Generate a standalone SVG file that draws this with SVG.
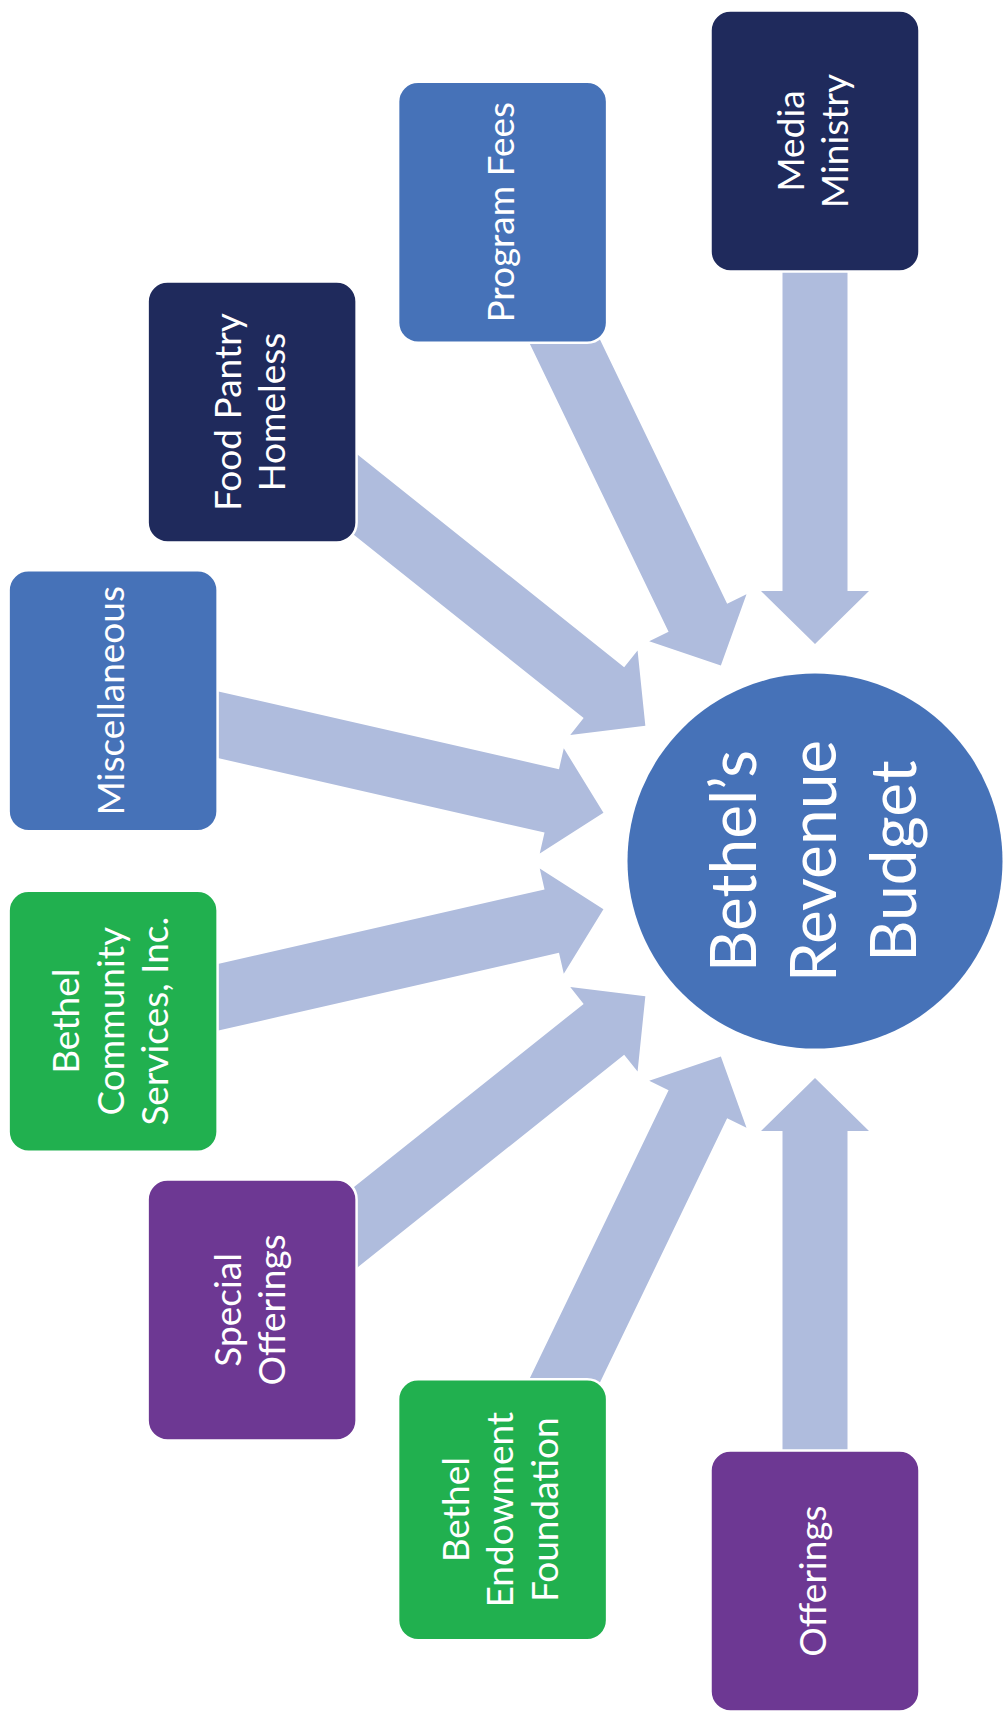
<svg xmlns="http://www.w3.org/2000/svg" width="1005" height="1719" viewBox="0 0 1005 1719">
<style>
.arrow{fill:#AFBCDD}
.box{stroke:#FFFFFF;stroke-width:2.5}
.navy{fill:#1F2A5C}
.blue{fill:#4672B8}
.green{fill:#21B04F}
.purple{fill:#6D3893}
.lbl{font-family:Lato,"Open Sans",sans-serif;fill:#FFFFFF;font-size:37px;text-anchor:middle}
.hub{font-family:Lato,"Open Sans",sans-serif;fill:#FFFFFF;font-size:64px;text-anchor:middle}
</style>
<defs>
<polygon id="arr" points="-32.5,-650 32.5,-650 32.5,-270 54,-270 0,-217 -54,-270 -32.5,-270"/>
</defs>
<rect width="1005" height="1719" fill="#FFFFFF"/>
<g id="connectors" class="arrow">
<use href="#arr" transform="translate(815 861) rotate(0)"/>
<use href="#arr" transform="translate(815 861) rotate(-25.714)"/>
<use href="#arr" transform="translate(815 861) rotate(-51.429)"/>
<use href="#arr" transform="translate(815 861) rotate(-77.143)"/>
<use href="#arr" transform="translate(815 861) rotate(-102.857)"/>
<use href="#arr" transform="translate(815 861) rotate(-128.571)"/>
<use href="#arr" transform="translate(815 861) rotate(-154.286)"/>
<use href="#arr" transform="translate(815 861) rotate(-180)"/>
</g>
<g id="hub">
<circle cx="815" cy="861" r="187.5" class="blue"/>
<text class="hub" transform="translate(815 861) rotate(-90)"><tspan x="0" y="-59">Bethel’s</tspan><tspan x="0" y="21">Revenue</tspan><tspan x="0" y="101">Budget</tspan></text>
</g>
<g id="media-ministry">
<rect class="box navy" x="710.5" y="10.5" width="209" height="261" rx="20"/>
<text class="lbl" transform="translate(815 141) rotate(-90)"><tspan x="0" y="-11.5">Media</tspan><tspan x="0" y="33">Ministry</tspan></text>
</g>
<g id="program-fees">
<rect class="box blue" x="398.1" y="81.8" width="209" height="261" rx="20"/>
<text class="lbl" transform="translate(502.6 212.3) rotate(-90)"><tspan x="0" y="11">Program Fees</tspan></text>
</g>
<g id="food-pantry">
<rect class="box navy" x="147.6" y="281.6" width="209" height="261" rx="20"/>
<text class="lbl" transform="translate(252.1 412.1) rotate(-90)"><tspan x="0" y="-11.5">Food Pantry</tspan><tspan x="0" y="33">Homeless</tspan></text>
</g>
<g id="miscellaneous">
<rect class="box blue" x="8.6" y="570.3" width="209" height="261" rx="20"/>
<text class="lbl" transform="translate(113.1 700.8) rotate(-90)"><tspan x="0" y="11">Miscellaneous</tspan></text>
</g>
<g id="bethel-community-services">
<rect class="box green" x="8.6" y="890.7" width="209" height="261" rx="20"/>
<text class="lbl" transform="translate(113.1 1021.2) rotate(-90)"><tspan x="0" y="-34">Bethel</tspan><tspan x="0" y="10.5">Community</tspan><tspan x="0" y="55">Services, Inc.</tspan></text>
</g>
<g id="special-offerings">
<rect class="box purple" x="147.6" y="1179.4" width="209" height="261" rx="20"/>
<text class="lbl" transform="translate(252.1 1309.9) rotate(-90)"><tspan x="0" y="-11.5">Special</tspan><tspan x="0" y="33">Offerings</tspan></text>
</g>
<g id="bethel-endowment-foundation">
<rect class="box green" x="398.1" y="1379.2" width="209" height="261" rx="20"/>
<text class="lbl" transform="translate(502.6 1509.7) rotate(-90)"><tspan x="0" y="-34">Bethel</tspan><tspan x="0" y="10.5">Endowment</tspan><tspan x="0" y="55">Foundation</tspan></text>
</g>
<g id="offerings">
<rect class="box purple" x="710.5" y="1450.5" width="209" height="261" rx="20"/>
<text class="lbl" transform="translate(815 1581) rotate(-90)"><tspan x="0" y="11">Offerings</tspan></text>
</g>
</svg>
